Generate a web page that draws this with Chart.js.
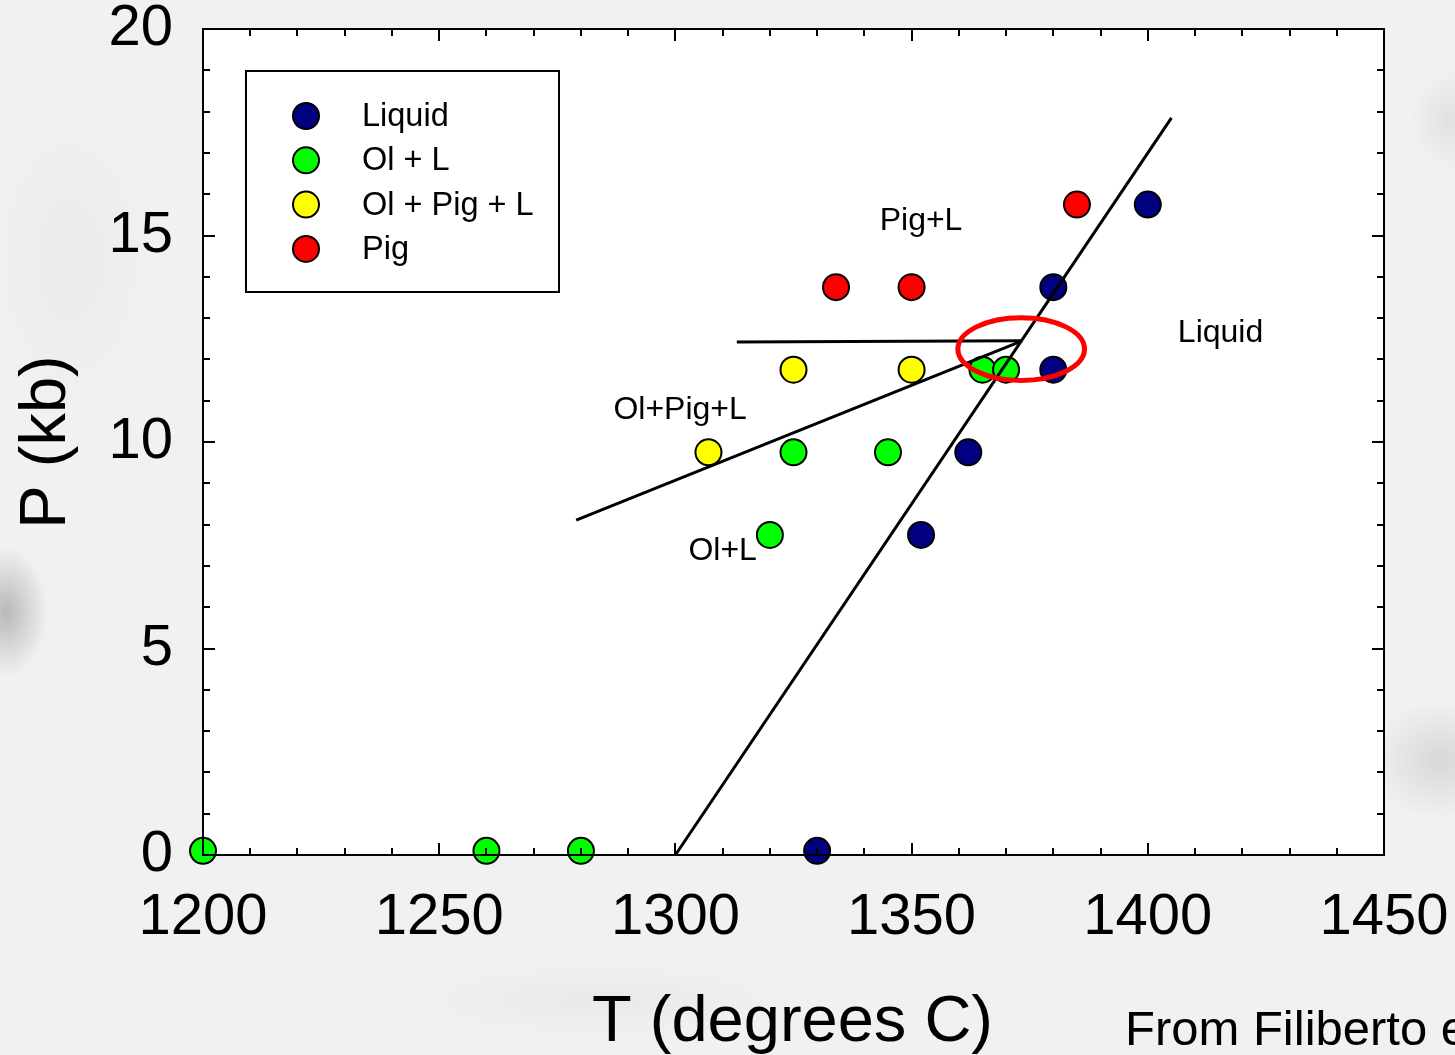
<!DOCTYPE html>
<html>
<head>
<meta charset="utf-8">
<script src="https://cdn.jsdelivr.net/npm/chart.js@4.4.1/dist/chart.umd.min.js"></script>
<style>
html,body{margin:0;padding:0;}
body{
  width:1455px;height:1055px;overflow:hidden;
  background-color:#f1f1f1;
  background-image:
    radial-gradient(ellipse 42px 65px at 6px 612px, rgba(160,160,160,0.7), rgba(160,160,160,0) 100%),
    radial-gradient(ellipse 70px 60px at 1440px 760px, rgba(195,195,195,0.55), rgba(195,195,195,0) 100%),
    radial-gradient(ellipse 40px 50px at 1450px 120px, rgba(205,205,205,0.45), rgba(205,205,205,0) 100%),
    radial-gradient(ellipse 200px 40px at 600px 1000px, rgba(225,225,225,0.5), rgba(225,225,225,0) 100%),
    radial-gradient(ellipse 90px 160px at 70px 260px, rgba(228,228,228,0.5), rgba(228,228,228,0) 100%);
}
#wrap{position:relative;width:1455px;height:1055px;}
</style>
</head>
<body>
<div id="wrap"><canvas id="c" width="1455" height="1055"></canvas></div>
<script>
// ---- data ----
const seriesNames  = ['Liquid', 'Ol + L', 'Ol + Pig + L', 'Pig'];
const seriesColors = ['#000080', '#00ff00', '#ffff00', '#ff0000'];

const liquidT = [1330, 1352, 1362, 1380, 1380, 1400];
const liquidP = [0.1, 7.75, 9.75, 11.75, 13.75, 15.75];

const olLT = [1200, 1260, 1280, 1320, 1325, 1345, 1365, 1370];
const olLP = [0.1, 0.1, 0.1, 7.75, 9.75, 9.75, 11.75, 11.75];

const olPigLT = [1307, 1325, 1350];
const olPigLP = [9.75, 11.75, 11.75];

const pigT = [1334, 1350, 1385];
const pigP = [13.75, 13.75, 15.75];

// phase boundary lines
const liquidusT = [1300, 1405];
const liquidusP = [0, 17.85];
const olPigBoundaryT = [1279, 1373.4];
const olPigBoundaryP = [8.11, 12.45];
const pigBoundaryT = [1313, 1373.4];
const pigBoundaryP = [12.42, 12.45];

// field labels
const fieldLabels = ['Pig+L', 'Liquid', 'Ol+Pig+L', 'Ol+L'];
const fieldLabelT = [1352, 1415.4, 1301, 1310];
const fieldLabelP = [15.34, 12.63, 10.77, 7.36];

// highlighted region (ellipse): centre T, centre P, half-width T, half-height P
const ellipseT = [1373.2, 13.4];
const ellipseP = [12.25, 0.76];

// axes
const xMin = 1200, xMax = 1450, xStep = 50, xMinor = 10;
const yMin = 0, yMax = 20, yStep = 5, yMinor = 1;
const xTitle = 'T (degrees C)';
const yTitle = 'P (kb)';
const creditText = 'From Filiberto et al.';

// ---- build ----
const FONT = '"Liberation Sans", Arial, Helvetica, sans-serif';
function pts(xs, ys){ return xs.map((x,i)=>({x:x, y:ys[i]})); }

const pointSets = [[liquidT, liquidP],[olLT, olLP],[olPigLT, olPigLP],[pigT, pigP]];
const datasets = [];
pointSets.forEach((s, i) => {
  datasets.push({
    type:'scatter', label: seriesNames[i], data: pts(s[0], s[1]),
    backgroundColor: seriesColors[i], borderColor:'#000', borderWidth:2,
    pointRadius:13, pointHoverRadius:13, order: 2, clip:false
  });
});
[[liquidusT, liquidusP],[olPigBoundaryT, olPigBoundaryP],[pigBoundaryT, pigBoundaryP]].forEach(l => {
  datasets.push({
    type:'scatter', label:'', data: pts(l[0], l[1]), showLine:true,
    borderColor:'#000', borderWidth:3, pointRadius:0, pointHoverRadius:0,
    fill:false, order:1, clip:false
  });
});

const decor = {
  id:'decor',
  beforeDatasetsDraw(chart){
    const {ctx, chartArea:a} = chart;
    ctx.save();
    ctx.fillStyle = '#ffffff';
    ctx.fillRect(a.left, a.top, a.right-a.left, a.bottom-a.top);
    ctx.restore();
  },
  afterDatasetsDraw(chart){
    const {ctx, chartArea:a, scales} = chart;
    const xs = scales.x, ys = scales.y;
    ctx.save();
    // frame
    ctx.strokeStyle = '#000'; ctx.lineWidth = 2;
    ctx.strokeRect(a.left, a.top, a.right-a.left, a.bottom-a.top);
    // ticks (inside, all sides)
    ctx.beginPath();
    for (let v = xMin; v <= xMax + 1e-9; v += xMinor) {
      const px = Math.round(xs.getPixelForValue(v));
      const len = (Math.abs((v - xMin) % xStep) < 1e-9) ? 12 : 7;
      ctx.moveTo(px, a.bottom); ctx.lineTo(px, a.bottom - len);
      ctx.moveTo(px, a.top); ctx.lineTo(px, a.top + len);
    }
    for (let v = yMin; v <= yMax + 1e-9; v += yMinor) {
      const py = Math.round(ys.getPixelForValue(v));
      const len = (Math.abs((v - yMin) % yStep) < 1e-9) ? 12 : 7;
      ctx.moveTo(a.left, py); ctx.lineTo(a.left + len, py);
      ctx.moveTo(a.right, py); ctx.lineTo(a.right - len, py);
    }
    ctx.stroke();

    // ellipse
    const cx = xs.getPixelForValue(ellipseT[0]);
    const cy = ys.getPixelForValue(ellipseP[0]);
    const rx = Math.abs(xs.getPixelForValue(ellipseT[0] + ellipseT[1]) - cx);
    const ry = Math.abs(ys.getPixelForValue(ellipseP[0] + ellipseP[1]) - cy);
    ctx.beginPath();
    ctx.ellipse(cx, cy, rx, ry, 0, 0, Math.PI*2);
    ctx.strokeStyle = '#ff0000'; ctx.lineWidth = 5;
    ctx.stroke();

    // field labels
    ctx.fillStyle = '#000';
    ctx.font = '32px ' + FONT;
    ctx.textAlign = 'center'; ctx.textBaseline = 'middle';
    fieldLabels.forEach((t, i) => {
      ctx.fillText(t, xs.getPixelForValue(fieldLabelT[i]), ys.getPixelForValue(fieldLabelP[i]));
    });

    // legend
    const lx = 246, ly = 71, lw = 313, lh = 221;
    ctx.fillStyle = '#fff';
    ctx.fillRect(lx, ly, lw, lh);
    ctx.strokeStyle = '#000'; ctx.lineWidth = 2;
    ctx.strokeRect(lx, ly, lw, lh);
    seriesNames.forEach((n, i) => {
      const yy = 116 + i * 44.3;
      ctx.beginPath();
      ctx.arc(306, yy, 13, 0, Math.PI*2);
      ctx.fillStyle = seriesColors[i]; ctx.fill();
      ctx.lineWidth = 2; ctx.strokeStyle = '#000'; ctx.stroke();
      ctx.fillStyle = '#000';
      ctx.font = '32.5px ' + FONT;
      ctx.textAlign = 'left'; ctx.textBaseline = 'middle';
      ctx.fillText(n, 362, yy + 1);
    });

    // axis titles
    ctx.fillStyle = '#000';
    ctx.font = '65px ' + FONT;
    ctx.textAlign = 'center'; ctx.textBaseline = 'alphabetic';
    ctx.fillText(xTitle, (a.left + a.right)/2 - 1, 1041);
    ctx.save();
    ctx.translate(65, (a.top + a.bottom)/2);
    ctx.rotate(-Math.PI/2);
    ctx.font = '65px ' + FONT;
    ctx.textAlign = 'center'; ctx.textBaseline = 'alphabetic';
    ctx.fillText(yTitle, 0, 0);
    ctx.restore();

    // credit
    ctx.font = '49px ' + FONT;
    ctx.textAlign = 'left'; ctx.textBaseline = 'alphabetic';
    ctx.fillText(creditText, 1125, 1045);
    ctx.restore();
  }
};

new Chart(document.getElementById('c'), {
  type:'scatter',
  data:{ datasets },
  options:{
    responsive:false, animation:false,
    layout:{ padding:{ top:29, right:71, left:0, bottom:0 } },
    plugins:{ legend:{display:false}, tooltip:{enabled:false} },
    events:[],
    scales:{
      x:{
        type:'linear', min:xMin, max:xMax,
        grid:{ display:false, drawTicks:true, tickLength:28 },
        border:{ display:false },
        ticks:{ stepSize:xStep, color:'#000', padding:0, maxRotation:0,
                font:{ family:FONT, size:58 }, callback:v=>String(v) },
        afterFit(s){ s.height = 200; }
      },
      y:{
        type:'linear', min:yMin, max:yMax,
        grid:{ display:false, drawTicks:true, tickLength:30 },
        border:{ display:false },
        ticks:{ stepSize:yStep, color:'#000', padding:0,
                font:{ family:FONT, size:58, lineHeight:1 }, callback:v=>String(v) },
        afterFit(s){ s.width = 203; }
      }
    }
  },
  plugins:[decor]
});
</script>
</body>
</html>
